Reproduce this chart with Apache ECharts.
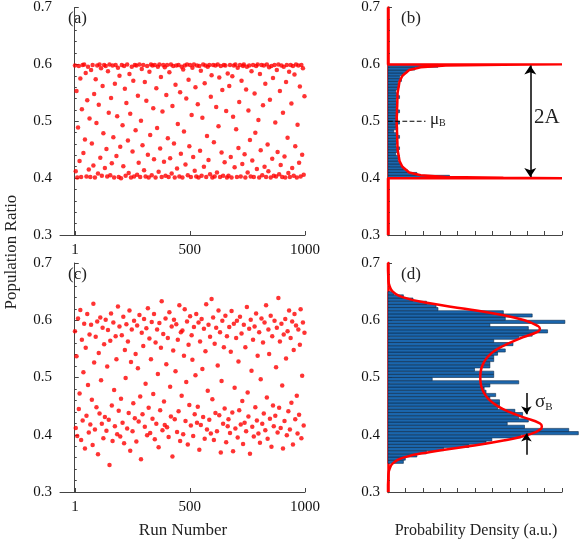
<!DOCTYPE html>
<html>
<head>
<meta charset="utf-8">
<script src="https://cdn.jsdelivr.net/npm/echarts@6/dist/echarts.min.js"></script>
<style>html,body{margin:0;padding:0;background:#fff}#chart{width:582px;height:540px}</style>
</head>
<body>
<div id="chart"></div>
<script>
// run-by-run population ratios, panel (a): bounded uniform-like
var ratioA = [
	.598,.412,.553,.401,.489,.597,.430,.575,.402,.521,.599,.444,.600,.468,.585,.403,.537,.596,.415,.505,
	.402,.590,.461,.599,.422,.548,.401,.574,.497,.598,.408,.529,.600,.436,.593,.404,.562,.479,.599,.418,
	.597,.451,.403,.588,.515,.600,.405,.541,.426,.598,.472,.401,.566,.599,.439,.509,.594,.402,.580,.455,
	.400,.599,.493,.421,.597,.557,.404,.532,.600,.466,.409,.583,.513,.401,.596,.447,.571,.403,.599,.484,
	.598,.406,.545,.427,.600,.402,.501,.592,.458,.599,.414,.569,.403,.536,.597,.441,.401,.587,.476,.600,
	.405,.598,.523,.433,.599,.401,.558,.488,.596,.411,.600,.452,.578,.402,.517,.599,.429,.595,.404,.546,
	.599,.470,.402,.586,.435,.600,.408,.527,.597,.461,.401,.564,.598,.417,.495,.599,.403,.551,.443,.596,
	.401,.591,.482,.598,.424,.540,.600,.405,.573,.456,.599,.402,.511,.594,.437,.600,.413,.560,.403,.598,
	.530,.401,.597,.448,.589,.404,.506,.600,.420,.567,.598,.402,.474,.596,.432,.599,.407,.543,.581,.401,
	.599,.463,.403,.598,.525,.410,.600,.491,.577,.402,.597,.445,.555,.404,.599,.428,.598,.518,.401,.584,
	.404,.562,.599,.437,.401,.579,.508,.598,.419,.600,.486,.402,.594,.453,.534,.599,.403,.571,.425,.597,
	.600,.442,.401,.556,.596,.410,.519,.598,.467,.403,.588,.431,.599,.402,.549,.480,.597,.416,.600,.502,
	.401,.583,.449,.599,.405,.528,.598,.420,.566,.402,.600,.459,.412,.595,.538,.401,.597,.434,.576,.404,
	.599,.498,.403,.590,.446,.600,.407,.553,.423,.598,.402,.515,.596,.438,.401,.569,.599,.471,.409,.587,
	.402,.599,.531,.418,.597,.404,.582,.456,.600,.401,.494,.598,.427,.561,.403,.599,.441,.593,.406,.544
];
// panel (c): bimodal
var ratioC = [
	.581,.412,.537,.398,.603,.445,.472,.618,.391,.566,.425,.509,.594,.376,.552,.433,.611,.487,.404,.575,
	.418,.592,.461,.382,.629,.526,.409,.571,.448,.598,.366,.543,.437,.605,.495,.419,.587,.394,.558,.431,
	.601,.407,.519,.583,.426,.347,.564,.612,.451,.389,.596,.478,.415,.572,.532,.401,.624,.442,.589,.397,
	.463,.574,.421,.606,.385,.548,.499,.593,.411,.563,.438,.617,.372,.527,.584,.406,.455,.599,.429,.541,
	.388,.591,.516,.423,.609,.467,.357,.578,.436,.555,.602,.414,.489,.586,.399,.621,.447,.568,.403,.532,
	.597,.428,.471,.611,.392,.561,.419,.584,.506,.378,.595,.443,.552,.633,.408,.576,.458,.417,.603,.523,
	.413,.569,.396,.614,.484,.432,.589,.362,.547,.601,.427,.511,.593,.405,.566,.441,.626,.389,.579,.468,
	.582,.401,.538,.619,.424,.492,.598,.383,.557,.452,.607,.416,.574,.531,.398,.588,.436,.504,.611,.421,
	.449,.596,.374,.563,.417,.602,.515,.431,.585,.393,.546,.628,.409,.477,.592,.426,.571,.402,.637,.462,
	.605,.391,.559,.438,.587,.406,.521,.617,.434,.579,.369,.494,.599,.419,.553,.446,.608,.387,.572,.415,
	.427,.588,.403,.545,.616,.439,.371,.594,.482,.411,.569,.599,.395,.528,.443,.606,.418,.577,.459,.384,
	.592,.421,.553,.406,.623,.474,.432,.585,.367,.601,.512,.414,.566,.397,.589,.448,.612,.425,.538,.402,
	.579,.386,.497,.603,.419,.561,.437,.596,.408,.626,.465,.393,.584,.541,.428,.608,.379,.572,.451,.415,
	.599,.433,.518,.587,.404,.639,.447,.563,.412,.594,.486,.376,.575,.424,.602,.533,.399,.581,.441,.617,
	.409,.569,.456,.598,.383,.548,.611,.427,.591,.468,.402,.584,.435,.557,.619,.394,.503,.596,.416,.578
];
var runStep = 1000 / 300;

// histogram (b): 0.4..0.6
var histB = [3.2,1.5,1.0,0.8,0.7,0.6,0.5,0.6,0.4,0.5,0.6,0.4,0.5,0.4,0.6,0.5,0.3,0.5,0.4,0.6,
	0.5,0.4,0.5,0.6,0.4,0.5,0.5,0.4,0.6,0.5,0.4,0.5,0.6,0.5,0.7,0.6,0.8,1.0,1.4,2.6];
var histBStart = 0.4, histBEnd = 0.6;
// histogram (d): 0.35..0.65
var histD = [0.8,0.9,1.5,2.0,2.9,4.2,5.1,5.4,6.9,9.9,9.4,7.1,6.2,7.3,6.8,7.0,6.6,5.7,5.8,5.8,
	5.3,5.6,5.1,5.0,5.3,6.8,2.3,5.5,5.5,4.5,5.3,5.3,5.5,5.5,5.7,6.1,5.8,6.5,5.5,6.8,
	7.5,8.3,7.3,5.3,9.2,6.1,7.5,6.0,2.6,2.5,2.0,1.3,0.8,0.3];
var histDStart = 0.35, histDEnd = 0.65;

// fitted densities [density, ratio]
var curveB = [[0,0.3],[0,0.4],[9.05,0.4],[6,0.4005],[3,0.402],[1.7,0.405],[1.1,0.41],[0.75,0.42],[0.6,0.43],
	[0.5,0.45],[0.45,0.5],[0.5,0.55],[0.6,0.57],[0.75,0.58],[1.1,0.59],[1.7,0.595],[3,0.598],[6,0.5995],
	[9.05,0.6],[0,0.6],[0,0.7]];
var curveDy = [0.30,0.31,0.32,0.33,0.34,0.35,0.36,0.37,0.38,0.39,0.40,0.41,0.415,0.42,0.43,0.44,0.45,0.46,0.47,0.48,0.49,0.50,
	0.51,0.52,0.53,0.54,0.55,0.56,0.57,0.58,0.585,0.59,0.60,0.61,0.62,0.63,0.64,0.65,0.66,0.67,0.68,0.69,0.70];
var curveDx = [0,0,0.01,0.02,0.08,0.25,0.8,2.2,4.2,6.0,7.3,7.95,8.0,7.9,7.1,6.3,5.7,5.3,5.05,4.9,4.82,4.8,
	4.82,4.9,5.05,5.3,5.7,6.3,7.0,7.8,7.9,7.8,7.1,5.8,4.0,2.1,0.8,0.25,0.08,0.02,0.01,0,0];
var runTicks = [1, 500, 1000];

var chart = echarts.init(document.getElementById('chart'));
var serif = 'Liberation Serif';
var axisCol = '#444';

function scatterData(arr) {
	return arr.map(function(v, i) { return [1 + i * runStep, v]; });
}
function histData(arr, a, b) {
	var w = (b - a) / arr.length;
	return arr.map(function(v, i) { return [v, a + i * w, a + (i + 1) * w]; });
}
function renderBar(params, api) {
	var p0 = api.coord([0, api.value(1)]);
	var p1 = api.coord([api.value(0), api.value(2)]);
	return {
		type: 'rect',
		shape: { x: p0[0], y: p1[1], width: p1[0] - p0[0], height: p0[1] - p1[1] },
		style: { fill: '#1b66ad', stroke: '#0a2a4a', lineWidth: 0.6 }
	};
}
function yAx(idx, red) {
	return {
		gridIndex: idx, type: 'value', min: 0.3, max: 0.7, interval: 0.1,
		axisLine: { show: true, lineStyle: { color: red ? '#ff0000' : axisCol, width: red ? 2.5 : 1 } },
		axisTick: { show: true, inside: true, length: 4, lineStyle: { color: axisCol } },
		minorTick: { show: true, splitNumber: 5, length: 2, lineStyle: { color: axisCol } },
		axisLabel: { color: '#111', fontFamily: serif, fontSize: 15, formatter: function(v) { return v.toFixed(1); } },
		splitLine: { show: false }
	};
}
function xRun(idx) {
	return {
		gridIndex: idx, type: 'value', min: -64, max: 1000,
		axisLine: { lineStyle: { color: axisCol } },
		axisTick: { inside: true, length: 4, lineStyle: { color: axisCol }, customValues: runTicks },
		axisLabel: { color: '#111', fontFamily: serif, fontSize: 15, customValues: runTicks,
			formatter: function(v) { return String(v); } },
		splitLine: { show: false }
	};
}
function xDen(idx) {
	return {
		gridIndex: idx, type: 'value', min: 0, max: 9.05, interval: 0.905,
		axisLine: { lineStyle: { color: axisCol } },
		axisTick: { inside: true, length: 4, lineStyle: { color: axisCol } },
		axisLabel: { show: false },
		splitLine: { show: false }
	};
}

chart.setOption({
	animation: false,
	grid: [
		{ left: 60, top: 6, width: 245, height: 229 },
		{ left: 388, top: 6, width: 174, height: 229 },
		{ left: 60, top: 263, width: 245, height: 229 },
		{ left: 388, top: 263, width: 174, height: 229 }
	],
	xAxis: [xRun(0), xDen(1), xRun(2), xDen(3)],
	yAxis: [yAx(0), yAx(1, true), yAx(2), yAx(3, true)],
	series: [
		{ type: 'scatter', xAxisIndex: 0, yAxisIndex: 0, symbolSize: 4.5, itemStyle: { color: '#ff0000' }, data: scatterData(ratioA) },
		{ type: 'scatter', xAxisIndex: 2, yAxisIndex: 2, symbolSize: 4.5, itemStyle: { color: '#ff0000' }, data: scatterData(ratioC) },
		{ type: 'custom', xAxisIndex: 1, yAxisIndex: 1, renderItem: renderBar, encode: { x: 0, y: [1, 2] }, clip: false, data: histData(histB, histBStart, histBEnd) },
		{ type: 'custom', xAxisIndex: 3, yAxisIndex: 3, renderItem: renderBar, encode: { x: 0, y: [1, 2] }, clip: false, data: histData(histD, histDStart, histDEnd) },
		{ type: 'line', xAxisIndex: 1, yAxisIndex: 1, showSymbol: false, smooth: false, lineStyle: { color: '#ff0000', width: 2.5 }, data: curveB },
		{ type: 'line', xAxisIndex: 3, yAxisIndex: 3, showSymbol: false, smooth: true, lineStyle: { color: '#ff0000', width: 2.5 },
			data: curveDx.map(function(x, i) { return [x, curveDy[i]]; }) },
		// mu_B
		{ type: 'line', xAxisIndex: 1, yAxisIndex: 1, showSymbol: false, lineStyle: { color: '#000', width: 1.2, type: 'dashed' },
			data: [[0, 0.5], [1.95, 0.5]] },
		// 2A arrow
		{ type: 'line', xAxisIndex: 1, yAxisIndex: 1, lineStyle: { color: '#000', width: 1.5 },
			markLine: { silent: true, symbol: ['arrow', 'arrow'], symbolSize: 9, label: { show: false },
				lineStyle: { color: '#000', width: 1.5, type: 'solid' },
				data: [[{ coord: [7.4, 0.402] }, { coord: [7.4, 0.598] }]] },
			data: [] },
		// sigma_B arrows
		{ type: 'line', xAxisIndex: 3, yAxisIndex: 3, lineStyle: { color: '#000' },
			markLine: { silent: true, symbol: ['none', 'arrow'], symbolSize: 8, label: { show: false },
				lineStyle: { color: '#000', width: 1.5, type: 'solid' },
				data: [[{ coord: [7.2, 0.473] }, { coord: [7.2, 0.436] }], [{ coord: [7.2, 0.365] }, { coord: [7.2, 0.402] }]] },
			data: [] }
	],
	graphic: [
		{ type: 'text', left: 68, top: 10, style: { text: '(a)', font: '17px "Liberation Serif"', fill: '#222' } },
		{ type: 'text', left: 401, top: 10, style: { text: '(b)', font: '17px "Liberation Serif"', fill: '#222' } },
		{ type: 'text', left: 68, top: 266, style: { text: '(c)', font: '17px "Liberation Serif"', fill: '#222' } },
		{ type: 'text', left: 401, top: 266, style: { text: '(d)', font: '17px "Liberation Serif"', fill: '#222' } },
		{ type: 'text', left: 430, top: 111, style: { text: '{m|μ}{s|B}', rich: { m: { font: '17px "Liberation Serif"', fill: '#222' }, s: { font: '10px "Liberation Serif"', fill: '#222', verticalAlign: 'bottom', padding: [8, 0, 0, 0] } } } },
		{ type: 'text', left: 534, top: 107, style: { text: '2A', font: '21px "Liberation Serif"', fill: '#222' } },
		{ type: 'text', left: 535, top: 393, style: { text: '{m|σ}{s|B}', rich: { m: { font: '19px "Liberation Serif"', fill: '#222' }, s: { font: '11px "Liberation Serif"', fill: '#222', verticalAlign: 'bottom', padding: [9, 0, 0, 0] } } } },
		{ type: 'text', x: 12, y: 252, rotation: Math.PI / 2, style: { text: 'Population Ratio', font: '17px "Liberation Serif"', fill: '#222', align: 'center', verticalAlign: 'middle' } },
		{ type: 'text', x: 183, y: 531, style: { text: 'Run Number', font: '17px "Liberation Serif"', fill: '#222', align: 'center', verticalAlign: 'middle' } },
		{ type: 'text', x: 476, y: 531, style: { text: 'Probability Density (a.u.)', font: '16px "Liberation Serif"', fill: '#222', align: 'center', verticalAlign: 'middle' } }
	]
});
</script>
</body>
</html>
